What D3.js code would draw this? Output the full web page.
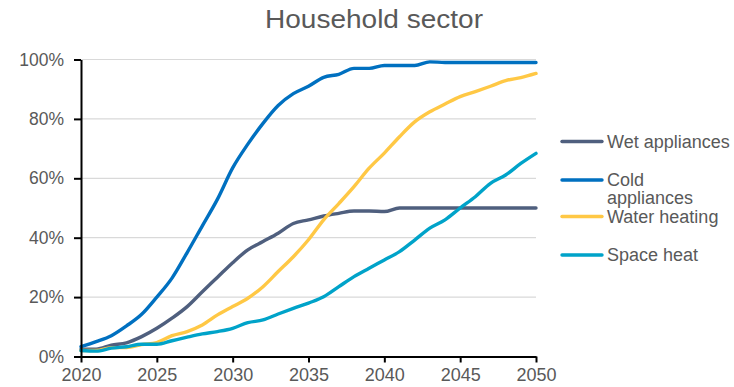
<!DOCTYPE html>
<html>
<head>
<meta charset="utf-8">
<script src="https://cdn.jsdelivr.net/npm/d3@7"></script>
<style>
  html, body { margin: 0; padding: 0; background: #ffffff; }
  svg { display: block; font-family: "Liberation Sans", Arial, sans-serif; }
</style>
</head>
<body>
<svg id="chart" width="734" height="387"></svg>
<script>
// Share of household stock (%) by end use, 2020–2050
const years = d3.range(2020, 2051);

const wetAppliances = [2.5, 2.5, 3.8, 4.6, 6.7, 9.5, 12.9, 16.8, 21.8, 26.7, 31.6, 35.9, 38.7, 41.5, 44.8, 46.0,
  47.3, 48.2, 49.0, 49.0, 48.8, 50.0, 50, 50, 50, 50, 50, 50, 50, 50, 50];
const coldAppliances = [3.3, 5.0, 7.0, 10.3, 14.2, 20.0, 26.4, 35.0, 44.0, 53.0, 63.5, 71.5, 78.5, 84.5, 88.5, 91.0,
  94.0, 95.0, 97.0, 97.0, 98.0, 98.0, 98.0, 99.2, 99, 99, 99, 99, 99, 99, 99];
const waterHeating = [2.0, 2.0, 3.0, 3.0, 4.0, 4.7, 7.0, 8.4, 10.6, 14.0, 16.8, 19.6, 23.5, 28.6, 33.6, 39.3,
  46.0, 51.5, 57.2, 63.4, 68.5, 74.0, 79.0, 82.4, 85.0, 87.5, 89.2, 91.0, 92.9, 93.9, 95.3];
const spaceHeat = [2.0, 1.8, 2.8, 3.3, 4.1, 4.1, 5.3, 6.5, 7.6, 8.4, 9.5, 11.4, 12.3, 14.3, 16.2, 18.0,
  20.1, 23.5, 26.9, 29.7, 32.5, 35.3, 39.2, 43.2, 46.0, 50.0, 53.8, 58.3, 61.1, 65.0, 68.4];

const seriesNames = ["Wet appliances", "Cold appliances", "Water heating", "Space heat"];
const seriesValues = [wetAppliances, coldAppliances, waterHeating, spaceHeat];
const seriesColors = ["#4f5f7e", "#0070c0", "#ffc845", "#00a3c9"];

const xTicks = [2020, 2025, 2030, 2035, 2040, 2045, 2050];
const yTicks = [0, 20, 40, 60, 80, 100];

const svg = d3.select("#chart");
const x = d3.scaleLinear().domain([2020, 2050]).range([81, 536]);
const y = d3.scaleLinear().domain([0, 100]).range([356.5, 59.5]);

// Title
svg.append("text")
  .attr("x", 374).attr("y", 28)
  .attr("text-anchor", "middle")
  .attr("font-size", 25.5)
  .attr("fill", "#595959")
  .attr("textLength", 218)
  .attr("lengthAdjust", "spacingAndGlyphs")
  .text("Household sector");

// Horizontal gridlines
svg.append("g")
  .selectAll("line")
  .data(yTicks.filter(d => d > 0))
  .join("line")
  .attr("x1", x(2020)).attr("x2", x(2050))
  .attr("y1", d => y(d)).attr("y2", d => y(d))
  .attr("stroke", "#d9d9d9")
  .attr("stroke-width", 1.2);

// Series lines
const line = d3.line()
  .x((d, i) => x(years[i]))
  .y(d => y(d))
  .curve(d3.curveMonotoneX);

svg.append("g")
  .selectAll("path")
  .data(seriesValues)
  .join("path")
  .attr("d", d => line(d))
  .attr("fill", "none")
  .attr("stroke", (d, i) => seriesColors[i])
  .attr("stroke-width", 3.4)
  .attr("stroke-linejoin", "round")
  .attr("stroke-linecap", "round");

// Axes
const yAxis = d3.axisLeft(y)
  .tickValues(yTicks)
  .tickFormat(d => d + "%")
  .tickSizeInner(7).tickSizeOuter(0)
  .tickPadding(10);
const gy = svg.append("g").attr("transform", `translate(${x(2020)},0)`).call(yAxis);

const xAxis = d3.axisBottom(x)
  .tickValues(xTicks)
  .tickFormat(d3.format("d"))
  .tickSizeInner(6).tickSizeOuter(0)
  .tickPadding(6);
const gx = svg.append("g").attr("transform", `translate(0,${y(0)})`).call(xAxis);

[gx, gy].forEach(g => {
  g.select(".domain").attr("stroke", "#000").attr("stroke-width", 2);
  g.selectAll(".tick line").attr("stroke", "#000").attr("stroke-width", 2);
  g.selectAll(".tick text")
    .attr("fill", "#595959")
    .attr("font-family", "'Liberation Sans', Arial, sans-serif");
});
gx.selectAll(".tick text").attr("font-size", 18);
gy.selectAll(".tick text").attr("font-size", 17.5);

// Legend
const legendRows = [
  { lines: ["Wet appliances"], y: 141.5 },
  { lines: ["Cold", "appliances"], y: 180 },
  { lines: ["Water heating"], y: 216.5 },
  { lines: ["Space heat"], y: 255 }
];
const legend = svg.append("g");
legendRows.forEach((row, i) => {
  legend.append("line")
    .attr("x1", 562).attr("x2", 602)
    .attr("y1", row.y).attr("y2", row.y)
    .attr("stroke", seriesColors[i])
    .attr("stroke-width", 3.4)
    .attr("stroke-linecap", "round");
  const t = legend.append("text")
    .attr("x", 607).attr("y", row.y)
    .attr("font-size", 18)
    .attr("fill", "#595959");
  row.lines.forEach((s, j) => {
    t.append("tspan").attr("x", 607).attr("dy", j === 0 ? "0.35em" : 18).text(s);
  });
});
</script>
</body>
</html>
